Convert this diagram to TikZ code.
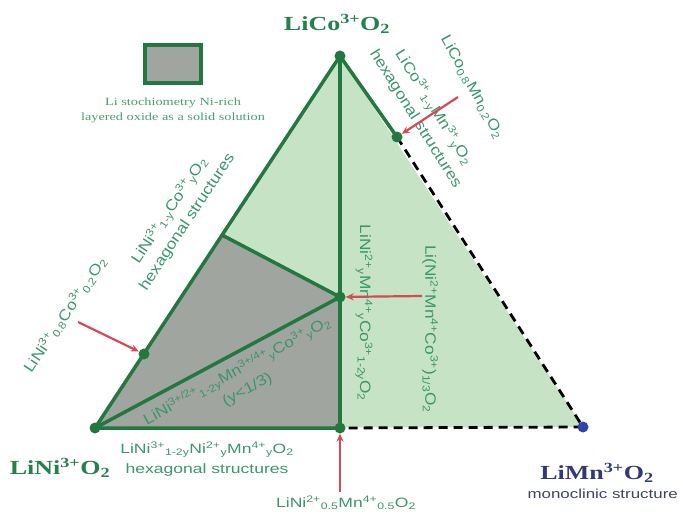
\documentclass[tikz,border=0pt]{standalone}
\usepackage{fontspec}
\setmainfont{Liberation Serif}
\setsansfont{Liberation Sans}
\newfontfamily\wideserif[FakeStretch=1.3]{Liberation Serif}
\newfontfamily\widesans[FakeStretch=1.3]{Liberation Sans}
\newfontfamily\slantsans[FakeStretch=1.15]{Liberation Sans}
\usetikzlibrary{arrows.meta}
\definecolor{edgegreen}{RGB}{34,120,62}
\definecolor{fillgreen}{RGB}{199,227,197}
\definecolor{fillgray}{RGB}{160,165,160}
\definecolor{textgreen}{RGB}{58,150,108}
\definecolor{keygreen}{RGB}{72,160,112}
\definecolor{headgreen}{RGB}{36,128,78}
\definecolor{arrowred}{RGB}{214,74,86}
\definecolor{mnblue}{RGB}{48,68,170}
\definecolor{mntext}{RGB}{50,58,118}
\definecolor{mngray}{RGB}{62,70,96}
\begin{document}
\begin{tikzpicture}[x=1pt,y=-1pt,
  edge/.style={edgegreen,line width=3.5pt,line join=round},
  dashedge/.style={black,line width=2.8pt,dash pattern=on 9pt off 6pt},
  dot/.style={circle,fill=edgegreen,inner sep=0pt,minimum size=11pt},
  pointer/.style={arrowred,line width=2.2pt,-{Stealth[length=8pt,width=7pt]}},
  head/.style={font=\wideserif\bfseries\fontsize{20}{22}\selectfont,text=headgreen},
  flat/.style={font=\widesans\fontsize{13.5}{20}\selectfont,text=textgreen,align=center},
  tilt/.style={font=\slantsans\fontsize{15}{21}\selectfont,text=textgreen,align=center}]
  \useasboundingbox (0,0) rectangle (683,516);
  % corners and points of the triangle
  \coordinate (ni) at (95,428);
  \coordinate (co) at (340,56);
  \coordinate (mn) at (583,427);
  \coordinate (nm) at (340,428);
  \coordinate (nmc) at (340,297);
  \coordinate (nc) at (144,354);
  \coordinate (cm) at (397,137);
  \coordinate (q) at (222,235);
  \fill[fillgreen] (ni) -- (co) -- (mn) -- cycle;
  \fill[fillgray] (ni) -- (q) -- (nmc) -- (nm) -- cycle;
  \draw[edge] (nm) -- (ni) -- (co) -- (cm);
  \draw[edge] (co) -- (nm);
  \draw[edge] (ni) -- (nmc);
  \draw[edge] (q) -- (nmc);
  \draw[dashedge] (cm) -- (mn) -- (nm);
  % legend
  \node[draw=edgegreen,line width=4pt,fill=fillgray,minimum width=56pt,minimum height=38pt,inner sep=0pt] (key) at (173,64) {};
  \node[font=\wideserif\fontsize{11}{15}\selectfont,text=keygreen,align=center] (keytext) at (173,110) {Li stochiometry Ni-rich\\layered oxide as a solid solution};
  % end members
  \node[head] (colab) at (337,24) {LiCo\textsuperscript{3+}O\textsubscript{2}};
  \node[head] (nilab) at (60,468) {LiNi\textsuperscript{3+}O\textsubscript{2}};
  \node[head,text=mntext] (mnlab) at (597,473) {LiMn\textsuperscript{3+}O\textsubscript{2}};
  \node[flat,text=mngray,anchor=west,font=\widesans\fontsize{13}{18}\selectfont] (mnsub) at (524,494) {monoclinic structure};
  % compositions
  \node[flat] (bottomlab) at (207,459) {LiNi\textsuperscript{3+}\textsubscript{1-2y}Ni\textsuperscript{2+}\textsubscript{y}Mn\textsuperscript{4+}\textsubscript{y}O\textsubscript{2}\\hexagonal structures};
  \node[flat] (halflab) at (346,503) {LiNi\textsuperscript{2+}\textsubscript{0.5}Mn\textsuperscript{4+}\textsubscript{0.5}O\textsubscript{2}};
  \node[tilt,rotate=56.5] (nicolab) at (178,216) {LiNi\textsuperscript{3+}\textsubscript{1-y}Co\textsuperscript{3+}\textsubscript{y}O\textsubscript{2}\\hexagonal structures};
  \node[tilt,rotate=56] (n08lab) at (65,315) {LiNi\textsuperscript{3+}\textsubscript{0.8}Co\textsuperscript{3+}\textsubscript{0.2}O\textsubscript{2}};
  \node[tilt,rotate=-58] (comnlab) at (425,113) {LiCo\textsuperscript{3+}\textsubscript{1-y}Mn\textsuperscript{3+}\textsubscript{y}O\textsubscript{2}\\hexagonal structures};
  \node[tilt,rotate=-61] (c08lab) at (472,87) {LiCo\textsubscript{0.8}Mn\textsubscript{0.2}O\textsubscript{2}};
  \node[tilt,rotate=-90] (nmclab) at (364,313) {LiNi\textsuperscript{2+}\textsubscript{y}Mn\textsuperscript{4+}\textsubscript{y}Co\textsuperscript{3+}\textsubscript{1-2y}O\textsubscript{2}};
  \node[tilt,rotate=-90] (thirdlab) at (430,329) {Li(Ni\textsuperscript{2+}Mn\textsuperscript{4+}Co\textsuperscript{3+})\textsubscript{1/3}O\textsubscript{2}};
  \node[tilt,rotate=28.5] (graylab) at (242,380) {LiNi\textsuperscript{3+/2+}\textsubscript{1-2y}Mn\textsuperscript{3+/4+}\textsubscript{y}Co\textsuperscript{3+}\textsubscript{y}O\textsubscript{2}\\(y<1/3)};
  % dots
  \node[dot] (pni) at (ni) {};
  \node[dot] (pco) at (co) {};
  \node[dot,fill=mnblue] (pmn) at (mn) {};
  \node[dot] (pnm) at (nm) {};
  \node[dot] (pnmc) at (nmc) {};
  \node[dot] (pnc) at (nc) {};
  \node[dot] (pcm) at (cm) {};
  % red pointers
  \coordinate (t1) at (458,97);
  \coordinate (t2) at (422,296);
  \coordinate (t3) at (340,492);
  \coordinate (t4) at (78,322);
  \draw[pointer] (t1) -- (pcm);
  \draw[pointer] (t2) -- (pnmc);
  \draw[pointer] (t3) -- (pnm);
  \draw[pointer] (t4) -- (pnc);
\end{tikzpicture}
\end{document}
